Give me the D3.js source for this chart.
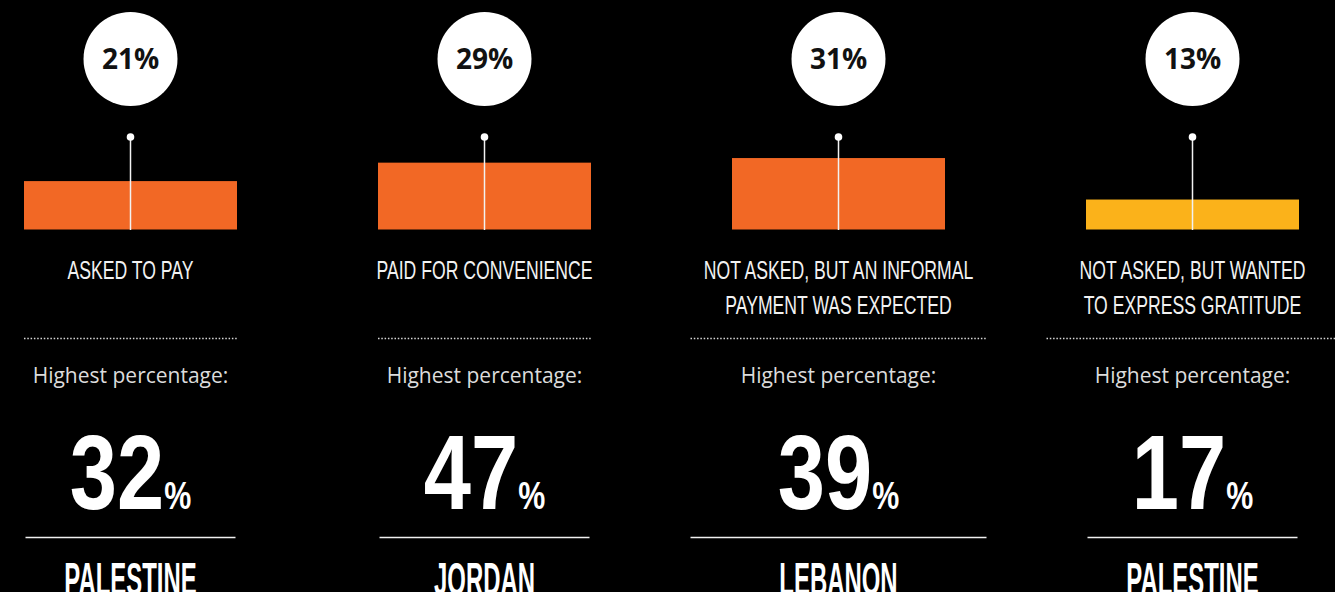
<!DOCTYPE html>
<html>
<head>
<meta charset="utf-8">
<script src="https://cdn.jsdelivr.net/npm/d3@7"></script>
<style>
  html, body { margin: 0; padding: 0; background: #000; }
  svg { display: block; }
</style>
</head>
<body>
<svg id="chart" width="1335" height="592"></svg>
<script>
// ---- data ----
const categories = ["Asked to pay", "Paid for convenience", "Informal payment expected", "Express gratitude"];
const categoryLabels = [
  ["ASKED TO PAY"],
  ["PAID FOR CONVENIENCE"],
  ["NOT ASKED, BUT AN INFORMAL", "PAYMENT WAS EXPECTED"],
  ["NOT ASKED, BUT WANTED", "TO EXPRESS GRATITUDE"]
];
const overallPct = [21, 29, 31, 13];
const highestPct = [32, 47, 39, 17];
const highestCountry = ["PALESTINE", "JORDAN", "LEBANON", "PALESTINE"];
const highestLabel = "Highest percentage:";

// ---- style / layout ----
const W = 1335, H = 592;
const barColor = d3.scaleOrdinal().domain(categories).range(["#F26825", "#F26825", "#F26825", "#FBB21A"]);
const dottedWidth = [213, 213, 296, 292];
const solidWidth = [210, 210, 296, 210];
const barW = 213;
const condensed = "'Liberation Sans', Arial, sans-serif";

const svg = d3.select("#chart");
svg.append("rect").attr("width", W).attr("height", H).attr("fill", "#000");

const x = d3.scalePoint().domain(categories).range([130.5, 1192.5]);
const y = d3.scaleLinear().domain([0, 100]).range([229.5, 229.5 - 230.5]);

const rows = categories.map((c, i) => ({
  cat: c, lines: categoryLabels[i], v: overallPct[i], hi: highestPct[i], country: highestCountry[i], i
}));

const g = svg.selectAll("g.panel").data(rows).join("g").attr("class", "panel")
  .attr("transform", d => `translate(${x(d.cat)},0)`);

// bars
g.append("rect")
  .attr("x", -barW / 2)
  .attr("width", barW)
  .attr("y", d => y(d.v))
  .attr("height", d => y(0) - y(d.v))
  .attr("fill", d => barColor(d.cat));

// pin line + dot
g.append("line")
  .attr("x1", 0).attr("x2", 0)
  .attr("y1", 137).attr("y2", y(0) + 0.5)
  .attr("stroke", "#f2f2f2").attr("stroke-width", 1.5);
g.append("circle").attr("cx", 0).attr("cy", 137).attr("r", 3.8).attr("fill", "#fff");

// value bubble
g.append("circle").attr("cx", 0).attr("cy", 59).attr("r", 47).attr("fill", "#fff");
g.append("text")
  .attr("x", 0).attr("y", 68.5)
  .attr("text-anchor", "middle")
  .attr("font-family", "'Open Sans', sans-serif")
  .attr("font-weight", 700)
  .attr("font-size", 28)
  .attr("fill", "#111")
  .text(d => d.v + "%");

// category label (condensed)
g.each(function(d) {
  const sel = d3.select(this);
  d.lines.forEach((ln, k) => {
    sel.append("g")
      .attr("transform", `translate(0,${278.5 + k * 35}) scale(0.665,1)`)
      .append("text")
      .attr("text-anchor", "middle")
      .attr("font-family", condensed)
      .attr("font-size", 26.5)
      .attr("fill", "#f2f2f2")
      .text(ln);
  });
});

// dotted divider
g.append("line")
  .attr("x1", d => -dottedWidth[d.i] / 2).attr("x2", d => dottedWidth[d.i] / 2)
  .attr("y1", 338.5).attr("y2", 338.5)
  .attr("stroke", "#d8d8d8").attr("stroke-width", 1.6)
  .attr("stroke-dasharray", "1.5,1.8");

// "Highest percentage:"
g.append("text")
  .attr("x", 0).attr("y", 382.5)
  .attr("text-anchor", "middle")
  .attr("font-family", "'Open Sans', sans-serif")
  .attr("font-size", 21)
  .attr("fill", "#dcdcdc")
  .text(highestLabel);

// big number
const big = g.append("g")
  .attr("transform", "translate(0,509) scale(0.8,1)")
  .append("text")
  .attr("text-anchor", "middle")
  .attr("font-family", condensed)
  .attr("font-weight", 700)
  .attr("fill", "#fff");
big.append("tspan").attr("font-size", 106).text(d => d.hi);
big.append("tspan").attr("font-size", 38).attr("dx", 0).text("%");

// solid divider
g.append("line")
  .attr("x1", d => -solidWidth[d.i] / 2).attr("x2", d => solidWidth[d.i] / 2)
  .attr("y1", 537.5).attr("y2", 537.5)
  .attr("stroke", "#f0f0f0").attr("stroke-width", 1.6);

// country
g.append("g")
  .attr("transform", "translate(0,595) scale(0.52,1)")
  .append("text")
  .attr("text-anchor", "middle")
  .attr("font-family", condensed)
  .attr("font-weight", 700)
  .attr("font-size", 46)
  .attr("fill", "#fff")
  .text(d => d.country);
</script>
</body>
</html>
